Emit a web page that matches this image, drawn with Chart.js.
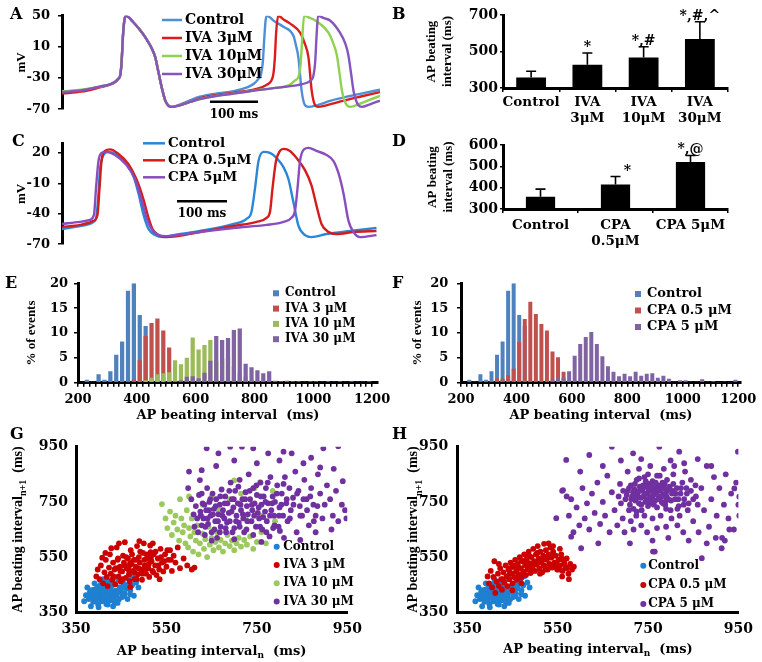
<!DOCTYPE html>
<html>
<head>
<meta charset="utf-8">
<title>AP beating intervals</title>
<script src="https://cdn.jsdelivr.net/npm/chart.js"></script>
<style>
  body { margin: 0; background: #fff; }
  #fig { position: relative; width: 762px; height: 662px; overflow: hidden; background: #fff; }
  #fig canvas { position: absolute; }
  .tag { position: absolute; font: bold 16px "DejaVu Serif"; line-height: 16px; color: #000; }
</style>
</head>
<body>
<div id="fig">
  <canvas id="cA" width="380" height="125" style="left:0;top:0"></canvas>
  <canvas id="cB" width="382" height="130" style="left:380px;top:0"></canvas>
  <canvas id="cC" width="380" height="132" style="left:0;top:128px"></canvas>
  <canvas id="cD" width="382" height="125" style="left:380px;top:130px"></canvas>
  <canvas id="cE" width="400" height="165" style="left:0;top:258px"></canvas>
  <canvas id="cF" width="382" height="165" style="left:380px;top:258px"></canvas>
  <canvas id="cG" width="380" height="239" style="left:0;top:423px"></canvas>
  <canvas id="cH" width="382" height="239" style="left:380px;top:423px"></canvas>
  <div class="tag" style="left:10px;top:6px">A</div>
  <div class="tag" style="left:392px;top:6px">B</div>
  <div class="tag" style="left:12px;top:133px">C</div>
  <div class="tag" style="left:392px;top:133px">D</div>
  <div class="tag" style="left:5px;top:275px">E</div>
  <div class="tag" style="left:392px;top:275px">F</div>
  <div class="tag" style="left:10px;top:426px">G</div>
  <div class="tag" style="left:392px;top:426px">H</div>
</div>
<script>
// ---- A: action potential traces, [time ms, mV]
var aNames = ['Control', 'IVA 3μM', 'IVA 10μM', 'IVA 30μM'];
var aTicks = [-70, -30, 10, 50];
var aControl = [[0,-49],[40,-46],[79,-41],[100,-38],[110,-35],[117,-31],[121,-27],[124,-10],[127,25],[130,45],[133,50],[148,42],[162,32],[176,20],[187,8],[194,-3],[201,-23],[208,-43],[215,-59],[221,-65],[228,-67],[245,-64],[265,-59],[287,-54],[320,-50],[357,-47],[385,-42],[400,-37],[409,-31],[414,-26],[418,-10],[421,20],[424,45],[427,50],[442,43],[461,36],[482,24],[487,12],[492,-3],[499,-47],[506,-65],[513,-67],[530,-65],[560,-59],[600,-53],[630,-49],[662,-45]];
var aIva3 = [[0,-50],[40,-47.5],[79,-42],[100,-38.5],[110,-35.5],[117,-31],[121,-27],[124,-10],[127,25],[130,45],[133,50],[148,42],[162,32],[176,20],[187,8],[194,-3],[201,-23],[208,-43],[215,-59],[221,-65],[228,-67],[245,-65],[265,-61],[287,-56],[320,-52],[357,-49],[390,-46],[415,-42],[428,-38],[436,-33],[440,-25],[443,-5],[446,30],[450,50],[462,45],[475,40],[496,28],[505,15],[513,-3],[520,-47],[527,-65],[533,-67],[550,-65],[580,-60],[620,-54],[662,-48]];
var aIva10 = [[0,-47],[40,-45],[79,-41],[100,-38],[110,-35],[117,-31],[121,-27],[124,-10],[127,25],[130,45],[133,50],[148,42],[162,32],[176,20],[187,8],[194,-3],[201,-23],[208,-43],[215,-59],[221,-65],[228,-67],[245,-65],[265,-61],[287,-57],[320,-53],[357,-50],[400,-46],[440,-43],[473,-39],[485,-33],[493,-27],[497,-10],[500,20],[504,50],[517,47],[530,43],[555,28],[565,14],[572,0],[578,-25],[583,-47],[593,-65],[600,-67],[620,-63],[640,-58],[662,-53]];
var aIva30 = [[0,-48],[40,-46],[79,-41],[100,-38],[110,-35],[117,-31],[121,-27],[124,-10],[127,25],[130,45],[133,50],[148,42],[162,32],[176,20],[187,8],[194,-3],[201,-23],[208,-43],[215,-59],[221,-65],[228,-67],[245,-65],[265,-61],[287,-57],[320,-53],[357,-50],[400,-46],[455,-42],[490,-39],[510,-36],[518,-33],[523,-28],[527,-10],[530,25],[533,50],[545,47],[558,44],[579,28],[590,14],[596,0],[602,-25],[607,-47],[617,-65],[624,-67],[640,-64],[662,-59]];

// ---- B: mean beating interval (ms) with error
var bLabels = [['Control'], ['IVA', '3μM'], ['IVA', '10μM'], ['IVA', '30μM']];
var bMean = [357, 428, 467, 568];
var bErr = [35, 64, 59, 95];
var bSig = ['', '*', '*,#', '*,#,^'];
var bTicks = [300, 400, 500, 600, 700];

// ---- C: traces with CPA
var cNames = ['Control', 'CPA 0.5μM', 'CPA 5μM'];
var cTicks = [-70, -40, -10, 20];
var cControl = [[0,-55],[36,-52],[63,-48],[69,-42],[73,-20],[76,3],[83,18],[93,21],[109,18],[129,9],[143,-3],[153,-20],[163,-41],[173,-55],[186,-61],[203,-63],[223,-61],[276,-57],[343,-50],[369,-45],[379,-38],[386,-15],[393,12],[403,21],[416,20],[429,15],[443,6],[453,-6],[463,-29],[473,-52],[486,-61],[499,-63],[529,-60],[576,-57],[629,-54]];
var cCpa05 = [[0,-53],[36,-51],[63,-47],[71,-41],[75,-15],[79,12],[86,22],[96,23.5],[113,19],[133,9],[149,-6],[163,-26],[173,-44],[181,-55],[193,-61],[209,-63],[276,-58],[343,-52],[389,-48],[409,-44],[416,-38],[421,-15],[428,12],[436,22],[443,24],[456,22],[469,15],[486,3],[499,-12],[509,-32],[519,-50],[533,-58],[549,-60],[583,-58],[629,-57]];
var cCpa5 = [[0,-50],[36,-48],[56,-46],[64,-41],[68,-15],[73,12],[79,20],[88,21],[106,18],[129,8],[146,-6],[159,-26],[169,-44],[179,-55],[193,-61],[209,-62],[276,-58],[343,-54],[409,-51],[443,-48],[459,-44],[466,-37],[471,-15],[476,12],[484,23.5],[493,25],[509,22],[529,18],[543,12],[553,0],[563,-20],[573,-47],[583,-58],[596,-63],[629,-61]];

// ---- D
var dLabels = [['Control'], ['CPA', '0.5μM'], ['CPA 5μM']];
var dMean = [358, 415, 520];
var dErr = [35, 37, 31];
var dSig = ['', '*', '*,@'];
var dTicks = [300, 400, 500, 600];

// ---- E / F: histograms, % of events per 20 ms bin (bin centres)
var bins = [210,230,250,270,290,310,330,350,370,390,
            410,430,450,470,490,510,530,550,570,590,
            610,630,650,670,690,710,730,750,770,790,
            810,830,850,870,890,910,930,950,970,990,
            1010,1030,1050,1070,1090,1110,1130,1150,1170,1190];
var histTicks = [0, 5, 10, 15, 20];
var histControl = [0,0.6,0.2,1.7,0.6,2.3,5.6,8.3,18.5,20,
                   13.6,11.4,0.3,0,0,0,0,0,0,0,
                   0,0,0,0,0,0,0,0,0,0,
                   0,0,0,0,0,0,0,0,0,0,
                   0,0,0,0,0,0,0,0,0,0];
var eIva3 = [0,0,0,0,0,0,0,0,0.2,0.6,
             4.5,9.4,12,12.9,10.5,7.1,0.4,0.2,0,0,
             0,0,0,0,0,0,0,0,0,0,
             0,0,0,0,0,0,0,0,0,0,
             0,0,0,0,0,0,0,0,0,0];
var eIva10 = [0,0,0,0,0,0,0,0,0,0,
              0.2,0.5,1.0,1.7,1.9,2.1,4.5,3.7,5.0,9.1,
              6.7,7.6,8.6,4.4,4.8,5.1,3.3,2.0,1.2,0.5,
              0.3,0.2,0,0,0,0,0,0,0,0,
              0,0,0,0,0,0,0,0,0,0];
var eIva30 = [0,0,0,0,0,0,0,0,0,0,
              0,0,0,0,0,0.2,0.3,0.5,1.2,1.3,
              0.9,2.0,4.4,9.4,8.6,9.0,10.6,10.9,3.8,3.1,
              2.5,1.9,2.3,0.4,0.3,0.4,0.3,0.3,0.2,0.3,
              0.3,0.2,0.3,0.2,0.3,0.2,0.3,0.2,0.2,0.3];
var fCpa05 = [0,0,0,0,0,0.3,0.9,0.8,1.5,2.8,
              8.2,12.8,16.3,13.8,11.8,10.5,6.3,5.1,2.2,0.5,
              0,0,0,0,0,0,0,0,0,0,
              0,0,0,0,0,0,0,0,0,0,
              0,0,0,0,0,0,0,0,0,0];
var fCpa5 = [0,0,0,0,0,0,0,0,0,0,
             0,0,0,0,0,0.3,0.6,1.0,1.0,2.3,
             5.4,7.8,9.2,10.2,7.8,5.3,3.3,2.2,1.3,1.8,
             1.3,2.2,1.4,1.8,1.9,1.0,1.4,0.8,0.2,0.5,
             0.5,0.2,0.2,0.7,0.2,0.3,0.1,0.2,0.1,0.6];
var eNames = ['Control', 'IVA 3 μM', 'IVA 10 μM', 'IVA 30 μM'];
var fNames = ['Control', 'CPA 0.5 μM', 'CPA 5 μM'];

// ---- G / H: Poincare plots, [interval n, interval n+1] in ms
var scatTicks = [350, 550, 750, 950];
var ctrlPairs = [[372,412],[378,398],[381,425],[385,405],[388,388],[390,432],[393,415],[395,398],[397,440],[399,378],[401,420],[403,405],[405,452],[407,390],[409,430],[411,414],[413,398],[415,445],[417,380],[419,425],[421,408],[423,462],[425,393],[427,436],[429,418],[431,402],[433,450],[436,385],[438,428],[440,412],[443,470],[445,397],[447,440],[450,423],[452,405],[455,455],[458,418],[461,436],[464,398],[467,470],[470,430],[474,448],[478,410],[483,458],[488,440],[368,390],[375,440],[383,372],[391,455],[400,368],[410,470],[420,378],[432,372],[442,384],[476,480],[380,415],[392,402],[404,430],[416,392],[428,448],[386,420],[398,410],[412,440],[424,400],[437,418],
  [384,430],[394,390],[402,445],[408,422],[418,410],[426,428],[434,395],[446,430],[456,410],[462,448],[396,425],[414,460],[430,465],[452,440],[470,415]];
var gIva3 = [[402,470],[405,520],[408,548],[410,455],[413,495],[416,540],[418,478],[420,445],[423,512],[425,560],[427,490],[430,468],[432,530],[435,505],[437,452],[440,585],[442,540],[444,480],[447,515],[449,462],[452,498],[454,555],[456,530],[458,604],[460,475],[462,510],[465,545],[467,488],[469,462],[471,575],[473,525],[476,500],[478,540],[480,470],[482,515],[485,590],[487,488],[489,550],[491,530],[494,505],[496,468],[498,565],[500,600],[502,520],[505,490],[507,545],[510,510],[512,478],[514,592],[517,535],[519,500],[522,560],[525,520],[528,485],[531,545],[534,505],[537,580],[540,530],[543,498],[547,560],[550,515],[554,540],[558,575],[562,500],[566,555],[570,530],[575,585],[580,510],[588,545],[596,520],[606,505],[612,512],[445,600],[428,582],[415,565],[395,480],[398,505],[520,600],[490,608],[535,470],[470,442],
  [433,480],[438,510],[443,545],[448,500],[453,470],[457,520],[461,550],[466,505],[470,530],[474,560],[479,495],[483,540],[488,510],[492,570],[497,490],[501,540],[506,560],[511,525],[516,550],[521,495],[526,570],[532,520],[538,550],[545,535],[552,575],[560,540],[468,520],[484,470],[503,508],[515,568]];
var gIva10 = [[540,742],[548,690],[552,655],[558,715],[562,630],[566,675],[570,700],[574,650],[578,610],[580,760],[583,690],[586,640],[589,665],[592,600],[595,720],[598,585],[600,655],[603,625],[606,690],[609,570],[612,640],[615,610],[618,665],[621,560],[624,600],[627,700],[630,635],[633,580],[636,615],[640,550],[643,660],[646,595],[650,620],[654,575],[658,605],[662,640],[666,585],[670,612],[675,570],[680,600],[685,630],[690,590],[695,610],[700,575],[705,600],[710,620],[715,588],[722,612],[728,595],[735,625],[742,580],[750,605],[760,640],[770,600],[700,828],[715,780],[745,800],[757,822],[785,790],[650,770],[630,740],[600,770],[665,720],[690,760],[725,690],[760,700],[790,680]];
var gIva30 = [[598,800],[605,760],[610,705],[612,660],[615,735],[618,690],[620,640],[622,775],[625,715],[628,665],[630,745],[632,690],[635,630],[638,720],[640,800],[642,670],[645,750],[648,700],[650,640],[652,780],[655,725],[658,680],[660,760],[662,620],[665,705],[668,740],[670,660],[672,795],[675,720],[678,690],[680,770],[682,640],[685,745],[688,710],[690,680],[692,820],[695,760],[698,730],[700,655],[702,790],[705,700],[708,745],[710,675],[712,830],[715,720],[718,760],[720,690],[722,640],[725,785],[728,735],[730,705],[732,850],[735,760],[738,680],[740,720],[742,800],[745,745],[748,660],[750,775],[752,710],[755,690],[758,820],[760,740],[762,650],[765,770],[768,715],[770,800],[772,680],[775,745],[778,625],[780,840],[782,720],[785,770],[788,700],[790,750],[795,810],[798,660],[800,730],[805,780],[808,700],[812,840],[815,745],[818,680],[822,800],[825,720],[830,765],[835,860],[838,640],[842,790],[845,735],[850,700],[855,830],[860,760],[865,665],[870,800],[875,740],[880,700],[885,850],[890,780],[895,690],[900,740],[905,810],[912,760],[918,700],[925,790],[930,680],[938,740],[945,720],[948,690],[940,825],[920,870],[897,944],[930,952],[853,890],[827,926],[809,932],[775,926],[742,944],[717,950],[691,950],[665,926],[639,944],[628,865],[600,860],[624,829],[660,880],[700,900],[750,890],[800,900],[870,910],[846,612],[810,620],[760,605],[700,615],[650,610],[880,640],[915,650],[890,875],
  [626,700],[634,740],[641,690],[647,760],[653,705],[659,735],[664,680],[669,770],[674,700],[679,745],[684,675],[689,790],[694,715],[699,760],[704,680],[709,805],[714,740],[719,705],[724,760],[729,680],[734,790],[739,740],[744,700],[749,810],[754,730],[759,770],[764,695],[769,750],[774,820],[779,700],[784,745],[789,665],[794,780],[799,700],[804,740],[809,815],[816,760],[823,690],[831,740],[839,780],[846,700],[853,760],[861,720],[868,770],[876,680],[884,735],[628,780],[636,660],[644,720],[656,650],[668,640],[681,655],[696,640],[712,660],[727,650],[742,630],[757,660],[771,640],[786,655],[801,645]];
var hCpa05 = [[398,455],[402,500],[405,440],[408,478],[410,535],[412,420],[415,462],[418,490],[420,445],[423,510],[425,470],[427,432],[430,495],[432,458],[435,520],[437,480],[439,445],[441,505],[443,470],[446,530],[448,490],[450,455],[452,515],[454,478],[456,540],[458,498],[460,468],[462,525],[464,488],[466,550],[468,510],[470,475],[472,535],[474,498],[476,560],[478,520],[480,485],[482,545],[484,505],[486,570],[488,528],[490,492],[492,550],[494,515],[496,580],[498,535],[500,500],[502,560],[504,522],[506,590],[508,545],[510,508],[512,570],[514,530],[516,495],[518,555],[520,598],[522,518],[524,575],[526,540],[528,505],[530,560],[532,525],[534,585],[536,548],[538,512],[540,570],[543,530],[546,555],[549,505],[552,540],[555,520],[558,560],[561,500],[564,535],[567,515],[570,545],[574,490],[578,525],[582,505],[586,515],[575,470],[560,480],[540,590],[530,600],[555,580],[470,455],[450,430],[420,525],[395,480],[428,470],[445,510],
  [444,490],[451,520],[457,475],[463,510],[469,540],[475,490],[481,525],[487,555],[493,500],[499,530],[505,565],[511,490],[517,540],[523,505],[529,550],[535,520],[541,560],[547,530],[553,505],[559,545],[565,525],[571,510],[477,535],[489,515],[507,530],[525,545],[543,515],[519,520]];
var hCpa5 = [[700,760],[705,790],[710,740],[712,810],[715,770],[718,725],[720,795],[722,755],[725,830],[727,780],[730,745],[732,805],[734,765],[736,720],[738,790],[740,770],[742,840],[744,750],[746,805],[748,780],[750,735],[752,815],[754,760],[756,790],[758,745],[760,825],[762,775],[764,800],[766,755],[768,785],[770,730],[772,810],[774,770],[776,845],[778,790],[780,750],[782,820],[784,775],[786,800],[788,740],[790,785],[792,830],[795,760],[798,805],[800,720],[803,780],[806,850],[810,760],[814,800],[818,735],[822,780],[826,820],[830,760],[835,800],[840,745],[560,790],[570,770],[575,700],[580,760],[585,640],[592,730],[598,665],[605,800],[610,690],[615,745],[620,650],[626,780],[632,710],[638,820],[644,670],[650,750],[655,700],[660,845],[665,640],[670,785],[676,720],[682,665],[688,815],[694,690],[698,640],[705,860],[712,680],[718,650],[724,700],[730,870],[735,665],[742,700],[748,640],[755,880],[760,690],[765,570],[770,655],[778,700],[785,870],[790,660],[795,620],[802,690],[808,880],[815,665],[820,700],[828,640],[832,860],[838,720],[845,830],[850,680],[856,770],[862,640],[868,800],[874,720],[880,880],[885,660],[890,760],[896,840],[902,700],[908,800],[914,620],[918,740],[922,850],[928,690],[934,780],[940,650],[945,820],[950,740],[952,700],[952,769],[941,799],[949,932],[913,582],[869,546],[761,570],[602,582],[580,624],[547,691],[562,793],[569,902],[620,920],[670,950],[717,926],[775,950],[819,932],[860,905],[890,880],[830,890],[800,900],[690,900],[650,880],[600,860],[735,905],[880,600],[900,620],[840,610],[710,600],[760,610],[640,600],[930,650],[920,610],
  [703,775],[708,800],[713,760],[717,785],[721,815],[726,765],[731,790],[735,740],[739,810],[743,780],[747,760],[751,795],[755,770],[759,805],[763,740],[767,820],[771,790],[775,760],[779,805],[783,745],[787,815],[791,770],[796,795],[801,755],[806,815],[811,780],[817,760],[823,800],[829,740],[836,780],[745,825],[760,760],[775,795],[790,755],[805,790],[720,770],[735,795],[750,750],[765,785],[780,770],[690,745],[695,790],[685,770],[845,790],[850,760],[855,810],[860,740],[708,720],[725,715],[790,725],[815,725],[770,845],[750,850],[730,835]];
var gNames = ['Control', 'IVA 3 μM', 'IVA 10 μM', 'IVA 30 μM'];
var hNames = ['Control', 'CPA 0.5 μM', 'CPA 5 μM'];
var xTitleParts = [{ t: 'AP beating interval' }, { t: 'n', sub: true }, { t: '  (ms)' }];
var yTitleParts = [{ t: 'AP beating interval' }, { t: 'n+1', sub: true }, { t: '  (ms)' }];

Chart.defaults.font.family = '"DejaVu Serif"';
Chart.defaults.font.weight = 'bold';
Chart.defaults.color = '#000';
Chart.defaults.animation = false;
Chart.defaults.responsive = false;
Chart.defaults.plugins.legend.display = false;
Chart.defaults.plugins.tooltip.enabled = false;

function tf(size) { return { family: '"DejaVu Serif"', weight: 'bold', size: size }; }
function rf(size, lh) { return { family: '"Liberation Serif"', weight: 'bold', size: size, lineHeight: lh || 1.2 }; }

function yScale(o) {
  return {
    min: o.min, max: o.max,
    afterFit: function (s) { s.width = o.w; },
    afterBuildTicks: function (s) { s.ticks = o.ticks.map(function (v) { return { value: v }; }); },
    border: { color: '#000', width: 3 },
    grid: o.tick ? { drawOnChartArea: false, color: '#000', lineWidth: 1.5, tickLength: o.tick } : { display: false, drawTicks: false },
    ticks: { font: tf(o.size), padding: o.pad, color: '#000' },
    title: o.title ? { display: true, text: o.title, font: rf(o.tsize || 13, o.lh), color: '#000', padding: { top: o.tpad, bottom: 0 } } : { display: false }
  };
}

// text with a subscript piece, centred on the current origin
function drawParts(ctx, parts, size, family) {
  var sub = Math.round(size * 0.7);
  var widths = parts.map(function (p) {
    ctx.font = 'bold ' + (p.sub ? sub : size) + 'px ' + family;
    return ctx.measureText(p.t).width;
  });
  var x = -widths.reduce(function (a, b) { return a + b; }, 0) / 2;
  ctx.textAlign = 'left';
  ctx.textBaseline = 'alphabetic';
  parts.forEach(function (p, i) {
    ctx.font = 'bold ' + (p.sub ? sub : size) + 'px ' + family;
    ctx.fillText(p.t, x, size * 0.35 + (p.sub ? size * 0.3 : 0));
    x += widths[i];
  });
}

var decor = {
  id: 'decor',
  afterDraw: function (chart, args, o) {
    var ctx = chart.ctx, xs = chart.scales.x, ys = chart.scales.y, area = chart.chartArea;
    ctx.save();
    ctx.fillStyle = '#000';
    ctx.strokeStyle = '#000';
    if (o.err) {
      var meta = chart.getDatasetMeta(0), vals = chart.data.datasets[0].data;
      o.err.forEach(function (e, i) {
        var x = meta.data[i].x;
        var yb = ys.getPixelForValue(vals[i]), yt = ys.getPixelForValue(vals[i] + e);
        ctx.lineWidth = 1.6;
        ctx.beginPath();
        ctx.moveTo(x, yb); ctx.lineTo(x, yt);
        ctx.moveTo(x - 5, yt); ctx.lineTo(x + 5, yt);
        ctx.stroke();
        if (o.sig[i]) {
          ctx.font = 'bold 14px "DejaVu Serif"';
          ctx.textAlign = 'center';
          ctx.textBaseline = 'alphabetic';
          ctx.fillText(o.sig[i], x + o.sigDx[i], yt - 2);
        }
      });
    }
    if (o.bar) {
      var x0 = xs.getPixelForValue(o.bar.t0), x1 = xs.getPixelForValue(o.bar.t1), yy = ys.getPixelForValue(o.bar.v);
      ctx.lineWidth = 2.5;
      ctx.beginPath(); ctx.moveTo(x0, yy); ctx.lineTo(x1, yy); ctx.stroke();
      ctx.font = 'bold 12px "DejaVu Serif"';
      ctx.textAlign = 'center';
      ctx.textBaseline = 'middle';
      ctx.fillText(o.bar.text, (x0 + x1) / 2, yy + o.bar.dy);
    }
    if (o.key) {
      var k = o.key;
      chart.data.datasets.forEach(function (ds, i) {
        var y = k.y + i * k.dy;
        var c = k.kind === 'line' ? ds.borderColor : ds.backgroundColor;
        ctx.fillStyle = c; ctx.strokeStyle = c;
        if (k.kind === 'line') {
          ctx.lineWidth = 2.5;
          ctx.beginPath(); ctx.moveTo(k.x, y); ctx.lineTo(k.x + k.w, y); ctx.stroke();
        } else if (k.kind === 'box') {
          ctx.fillRect(k.x, y - k.w / 2, k.w, k.w);
        } else {
          ctx.beginPath(); ctx.arc(k.x, y, k.w, 0, Math.PI * 2); ctx.fill();
        }
        ctx.fillStyle = '#000';
        ctx.font = 'bold ' + k.size + 'px "DejaVu Serif"';
        ctx.textAlign = 'left';
        ctx.textBaseline = 'middle';
        ctx.fillText(ds.label, k.tx, y);
      });
    }
    if (o.xTitle) {
      ctx.save();
      ctx.fillStyle = '#000';
      ctx.translate((area.left + area.right) / 2, o.xTitle.y);
      drawParts(ctx, xTitleParts, 13, '"DejaVu Serif"');
      ctx.restore();
    }
    if (o.yTitle) {
      ctx.save();
      ctx.fillStyle = '#000';
      ctx.translate(o.yTitle.x, (area.top + area.bottom) / 2);
      ctx.rotate(-Math.PI / 2);
      drawParts(ctx, yTitleParts, 14, '"Liberation Serif"');
      ctx.restore();
    }
    ctx.restore();
  }
};

function traceChart(id, series, names, colors, o) {
  return new Chart(document.getElementById(id), {
    type: 'line',
    data: {
      datasets: series.map(function (s, i) {
        return {
          label: names[i],
          data: s.map(function (p) { return { x: p[0], y: p[1] }; }),
          borderColor: colors[i], borderWidth: 2.4, pointRadius: 0,
          cubicInterpolationMode: 'monotone', order: series.length - i
        };
      })
    },
    options: {
      layout: { padding: o.pad },
      scales: {
        x: { type: 'linear', display: false, min: 0, max: o.tmax },
        y: yScale({ min: -70, max: o.vmax, w: o.yw, ticks: o.ticks, tick: 4, pad: 8, size: 13, title: 'mV', tsize: 13, tpad: 14 })
      },
      plugins: { decor: o.decor }
    },
    plugins: [decor]
  });
}

function meanChart(id, labels, mean, err, sig, o) {
  return new Chart(document.getElementById(id), {
    type: 'bar',
    data: { labels: labels, datasets: [{ data: mean, backgroundColor: '#000', barPercentage: o.bp, categoryPercentage: 1 }] },
    options: {
      layout: { padding: { top: 15, right: 34, left: 0, bottom: 0 } },
      scales: {
        x: {
          afterFit: function (s) { s.height = o.xh; },
          border: { color: '#000', width: 3 },
          grid: { drawOnChartArea: false, color: '#000', lineWidth: 1.5, tickLength: 4 },
          ticks: { font: tf(13.5), padding: o.lpad, color: '#000', maxRotation: 0, autoSkip: false }
        },
        y: yScale({ min: 300, max: o.ymax, w: 123, ticks: o.ticks, tick: 3, pad: 2, size: 14, title: ['AP beating', 'interval (ms)'], tpad: o.tpad, lh: 1.23 })
      },
      plugins: { decor: { err: err, sig: sig, sigDx: o.sigDx } }
    },
    plugins: [decor]
  });
}

function histChart(id, series, names, colors, o) {
  return new Chart(document.getElementById(id), {
    type: 'bar',
    data: {
      datasets: series.map(function (s, i) {
        return {
          label: names[i],
          data: bins.map(function (b, k) { return { x: b, y: s[k] }; }),
          backgroundColor: colors[i], grouped: false,
          barPercentage: 0.72, categoryPercentage: 1, order: series.length - i
        };
      })
    },
    options: {
      layout: { padding: o.pad },
      scales: {
        x: {
          type: 'linear', min: 200, max: o.xmax, offset: false,
          afterFit: function (s) { s.height = 40.3; },
          afterBuildTicks: function (s) {
            var t = [];
            for (var v = 200; v <= 1200; v += 20) t.push({ value: v });
            s.ticks = t;
          },
          border: { color: '#000', width: 3 },
          grid: { offset: false, drawOnChartArea: false, color: '#000', lineWidth: 1.5, tickLength: 4 },
          ticks: { font: tf(13), padding: 5.5, color: '#000', maxRotation: 0, autoSkip: false,
                   callback: function (v) { return v % 200 === 0 ? v : ''; } },
          title: { display: true, text: 'AP beating interval  (ms)', font: tf(13), color: '#000', padding: { top: 0, bottom: 0 } }
        },
        y: yScale({ min: 0, max: 20, w: o.yw, ticks: histTicks, tick: 4, pad: o.ypad, size: 13, title: '% of events', tpad: o.tpad })
      },
      plugins: { decor: { key: o.key } }
    },
    plugins: [decor]
  });
}

function scatChart(id, series, names, colors, o) {
  return new Chart(document.getElementById(id), {
    type: 'scatter',
    data: {
      datasets: series.map(function (s, i) {
        return {
          label: names[i],
          data: s.map(function (p) { return { x: p[0], y: p[1] }; }),
          backgroundColor: colors[i], borderWidth: 0, pointRadius: 2.9, order: series.length - i
        };
      })
    },
    options: {
      layout: { padding: o.pad },
      scales: {
        x: {
          type: 'linear', min: o.xmin, max: 950,
          afterFit: function (s) { s.height = 49.7; },
          afterBuildTicks: function (s) { s.ticks = scatTicks.map(function (v) { return { value: v }; }); },
          border: { color: '#000', width: 3 },
          grid: { display: false, drawTicks: false },
          ticks: { font: tf(14), padding: 9, color: '#000', maxRotation: 0 }
        },
        y: yScale({ min: 350, max: 950, w: o.yw, ticks: scatTicks, tick: 0, pad: o.ypad, size: 14 })
      },
      plugins: { decor: { key: o.key, xTitle: o.xTitle, yTitle: o.yTitle } }
    },
    plugins: [decor]
  });
}

traceChart('cA', [aControl, aIva3, aIva10, aIva30], aNames, ['#4f8fd6', '#dc1c1c', '#8fd150', '#8455bd'], {
  pad: { top: 15, bottom: 9, left: 0, right: 0 }, tmax: 662, vmax: 50, yw: 62, ticks: aTicks,
  decor: { bar: { t0: 308, t1: 408, v: -60.5, dy: 12.7, text: '100 ms' },
           key: { kind: 'line', x: 162, w: 20, tx: 185, y: 20, dy: 18, size: 14 } }
});

meanChart('cB', bLabels, bMean, bErr, bSig, { bp: 0.53, xh: 42, ymax: 700, ticks: bTicks, lpad: 2, tpad: 44, sigDx: [0, 0, 0, 0] });

traceChart('cC', [cControl, cCpa05, cCpa5], cNames, ['#2b86d6', '#d41c1c', '#8a4dbd'], {
  pad: { top: 12, bottom: 6.7, left: 0, right: 3 }, tmax: 630, vmax: 29, yw: 62, ticks: cTicks,
  decor: { bar: { t0: 230, t1: 330, v: -27.6, dy: 13, text: '100 ms' },
           key: { kind: 'line', x: 143, w: 22, tx: 168, y: 15.3, dy: 17, size: 13.5 } }
});

meanChart('cD', dLabels, dMean, dErr, dSig, { bp: 0.39, xh: 46, ymax: 600, ticks: dTicks, lpad: 4, tpad: 45, sigDx: [0, 12, 0] });

histChart('cE', [histControl, eIva3, eIva10, eIva30], eNames, ['#4f81bd', '#c0504d', '#9bbb59', '#8064a2'], {
  pad: { top: 25.3, right: 22, left: 0, bottom: 0 }, xmax: 1220, yw: 78, ypad: 6, tpad: 24,
  key: { kind: 'box', x: 273, w: 6, tx: 285, y: 35.3, dy: 15.3, size: 12 }
});

histChart('cF', [histControl, fCpa05, fCpa5], fNames, ['#4f81bd', '#c0504d', '#8064a2'], {
  pad: { top: 25.3, right: 18, left: 0, bottom: 0 }, xmax: 1210, yw: 81, ypad: 8.7, tpad: 30,
  key: { kind: 'box', x: 255, w: 6, tx: 267, y: 36, dy: 16.5, size: 13 }
});

scatChart('cG', [ctrlPairs, gIva3, gIva10, gIva30], gNames, ['#1f7fd0', '#cc0000', '#9cc95e', '#7030a0'], {
  pad: { top: 23.7, right: 32.7, left: 0, bottom: 0 }, xmin: 350, yw: 76, ypad: 8,
  key: { kind: 'dot', x: 276.7, w: 3, tx: 283.3, y: 123.7, dy: 18.3, size: 12 },
  xTitle: { y: 227 }, yTitle: { x: 17 }
});

scatChart('cH', [ctrlPairs, hCpa05, hCpa5], hNames, ['#1f7fd0', '#cc0000', '#7030a0'], {
  pad: { top: 23.7, right: 18, left: 0, bottom: 0 }, xmin: 328, yw: 77.3, ypad: 9,
  key: { kind: 'dot', x: 263.3, w: 3, tx: 268.3, y: 142.7, dy: 19.2, size: 12 },
  xTitle: { y: 225 }, yTitle: { x: 32.5 }
});
</script>
</body>
</html>
